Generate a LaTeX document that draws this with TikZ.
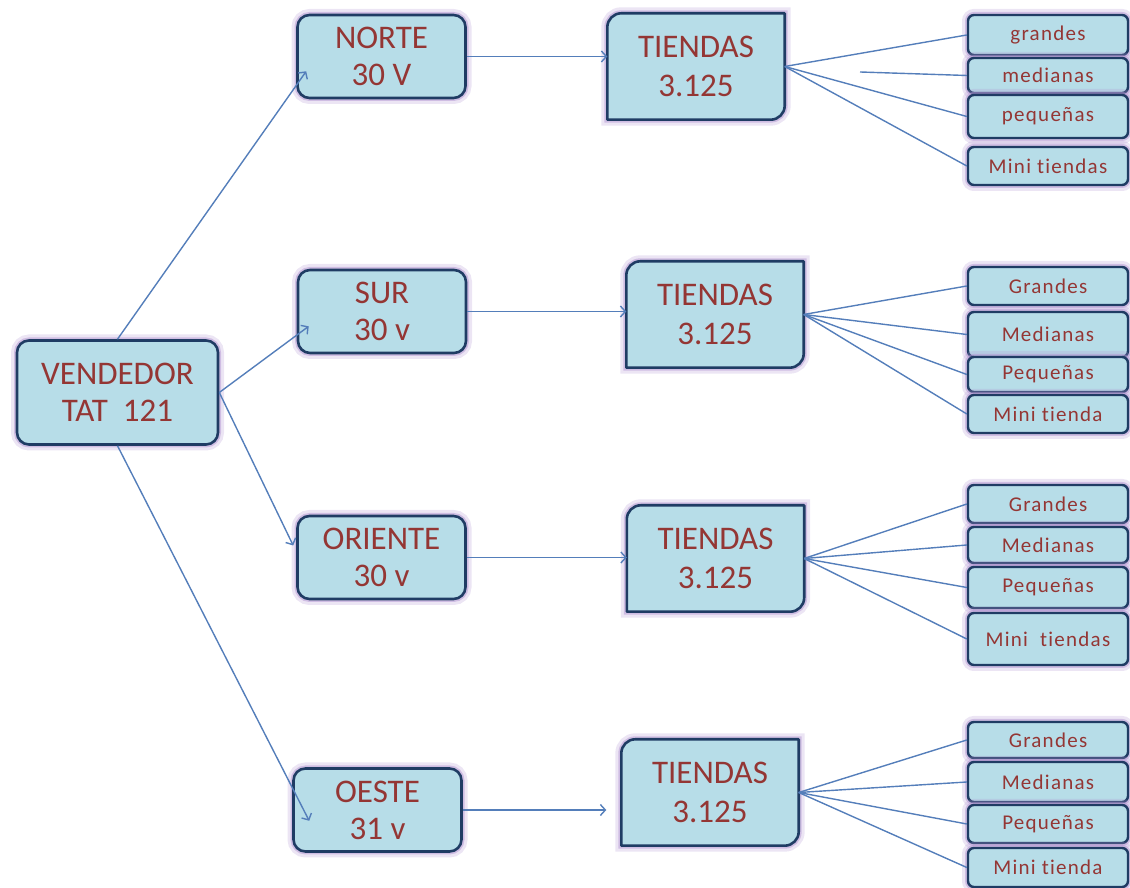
\documentclass[tikz,border=0pt]{standalone}
\usepackage{fontspec}
\setmainfont{Carlito}
\newfontfamily\kindfont[LetterSpace=6,Ligatures=NoCommon]{Carlito}
\usetikzlibrary{arrows.meta,backgrounds}

\definecolor{boxfill}{RGB}{183,221,232}
\definecolor{boxline}{RGB}{31,60,100}
\definecolor{glow}{RGB}{178,150,210}
\definecolor{txtred}{RGB}{148,54,52}
\definecolor{linkblue}{RGB}{84,126,186}

\tikzset{
  glowing/.style={preaction={draw=glow, line width=12pt, opacity=0.25},
                  preaction={draw=glow, line width=6pt, opacity=0.5}},
  region/.style={glowing, draw=boxline, line width=2.6pt, fill=boxfill,
                 rounded corners=12pt, minimum width=168pt, minimum height=83pt,
                 inner sep=0pt, align=center, text=txtred,
                 font=\fontsize{33}{37}\selectfont},
  vendbox/.style={region, minimum width=201pt, minimum height=104pt},
  shopbox/.style={minimum width=177pt, minimum height=106pt, inner sep=0pt,
                  align=center, text=txtred, font=\fontsize{33}{39}\selectfont},
  shopline/.style={glowing, draw=boxline, line width=2.6pt, fill=boxfill, line join=round},
  kindbox/.style={glowing, draw=boxline, line width=2.4pt, fill=boxfill,
                  rounded corners=6pt, minimum width=160pt, inner sep=0pt,
                  text=txtred, font=\kindfont\fontsize{21}{24}\selectfont},
  conn/.style={draw=linkblue, line width=1.4pt},
  arr/.style={conn, -{Straight Barb[length=5pt,width=11pt]}}
}

% shape of the TIENDAS boxes (two rounded corners)
\newcommand{\shopshape}[1]{%
  \draw[shopline] (#1.south west) -- ([yshift=-14pt]#1.north west)
    arc[start angle=180, end angle=90, radius=14pt] -- (#1.north east)
    -- ([yshift=14pt]#1.south east)
    arc[start angle=0, end angle=-90, radius=14pt] -- cycle;}

\begin{document}
\begin{tikzpicture}[x=1pt,y=1pt]
\useasboundingbox (0,0) rectangle (1130,888);

% Seller
\node[vendbox] (vend) at (117.5,495.5) {VENDEDOR\\TAT~~121};

% Regions
\node[region] (norte) at (381.5,831.5) {NORTE\\30 V};
\node[region] (sur) at (382,576.5) {SUR\\30 v};
\node[region] (oriente) at (381.5,330.5) {ORIENTE\\30 v};
\node[region] (oeste) at (377.5,78) {OESTE\\31 v};

% Shops
\node[shopbox] (tnorte) at (696,821.5) {TIENDAS\\3.125};
\node[shopbox] (tsur) at (715,573.5) {TIENDAS\\3.125};
\node[shopbox] (toriente) at (715.5,329.5) {TIENDAS\\3.125};
\node[shopbox] (toeste) at (710,95.5) {TIENDAS\\3.125};
\begin{scope}[on background layer]
  \shopshape{tnorte}
  \shopshape{tsur}
  \shopshape{toriente}
  \shopshape{toeste}
\end{scope}

% Shop sizes, north
\node[kindbox, minimum height=40pt] (ng) at (1048,853) {grandes};
\node[kindbox, minimum height=35pt] (nm) at (1048,812.5) {medianas};
\node[kindbox, minimum height=43pt] (np) at (1048,771.5) {pequeñas};
\node[kindbox, minimum height=38pt] (nt) at (1048,722) {Mini tiendas};
% Shop sizes, south
\node[kindbox, minimum height=38pt] (sg) at (1048,602) {Grandes};
\node[kindbox, minimum height=45pt] (sm) at (1048,553.5) {Medianas};
\node[kindbox, minimum height=35pt] (sp) at (1048,513.5) {Pequeñas};
\node[kindbox, minimum height=38pt] (st) at (1048,474) {Mini tienda};
% Shop sizes, east
\node[kindbox, minimum height=38pt] (og) at (1048,384) {Grandes};
\node[kindbox, minimum height=36pt] (om) at (1048,343) {Medianas};
\node[kindbox, minimum height=41pt] (op) at (1048,300.5) {Pequeñas};
\node[kindbox, minimum height=52pt] (ot) at (1048,249) {Mini~ tiendas};
% Shop sizes, west
\node[kindbox, minimum height=36pt] (wg) at (1048,148) {Grandes};
\node[kindbox, minimum height=40pt] (wm) at (1048,106) {Medianas};
\node[kindbox, minimum height=38pt] (wp) at (1048,64) {Pequeñas};
\node[kindbox, minimum height=39pt] (wt) at (1048,20.5) {Mini tienda};

% Seller to regions
\draw[arr] (vend.north) -- ([xshift=10pt,yshift=28pt]norte.south west);
\draw[arr] (vend.east) -- ([xshift=12pt,yshift=28pt]sur.south west);
\draw[arr] (vend.east) -- ([xshift=-3pt,yshift=12pt]oriente.west);
\draw[arr] (vend.south) -- ([xshift=17pt,yshift=32pt]oeste.south west);

% Regions to shops
\draw[arr] (norte.east) -- (norte.east -| tnorte.west);
\draw[arr] (sur.east) -- (sur.east -| tsur.west);
\draw[arr] (oriente.east) -- (oriente.east -| toriente.west);
\draw[arr] (oeste.east) -- ([xshift=-15pt]oeste.east -| toeste.west);

% Fans
\coordinate (nmstart) at (860,816);
\draw[conn] (tnorte.east) -- (ng.west);
\draw[conn] (nmstart) -- (nm.west);
\draw[conn] (tnorte.east) -- (np.west);
\draw[conn] (tnorte.east) -- (nt.west);
\foreach \k in {sg,sm,sp,st}
  \draw[conn] (tsur.east) -- (\k.west);
\foreach \k in {og,om,op,ot}
  \draw[conn] (toriente.east) -- (\k.west);
\foreach \k in {wg,wm,wp,wt}
  \draw[conn] (toeste.east) -- (\k.west);
\end{tikzpicture}
\end{document}
